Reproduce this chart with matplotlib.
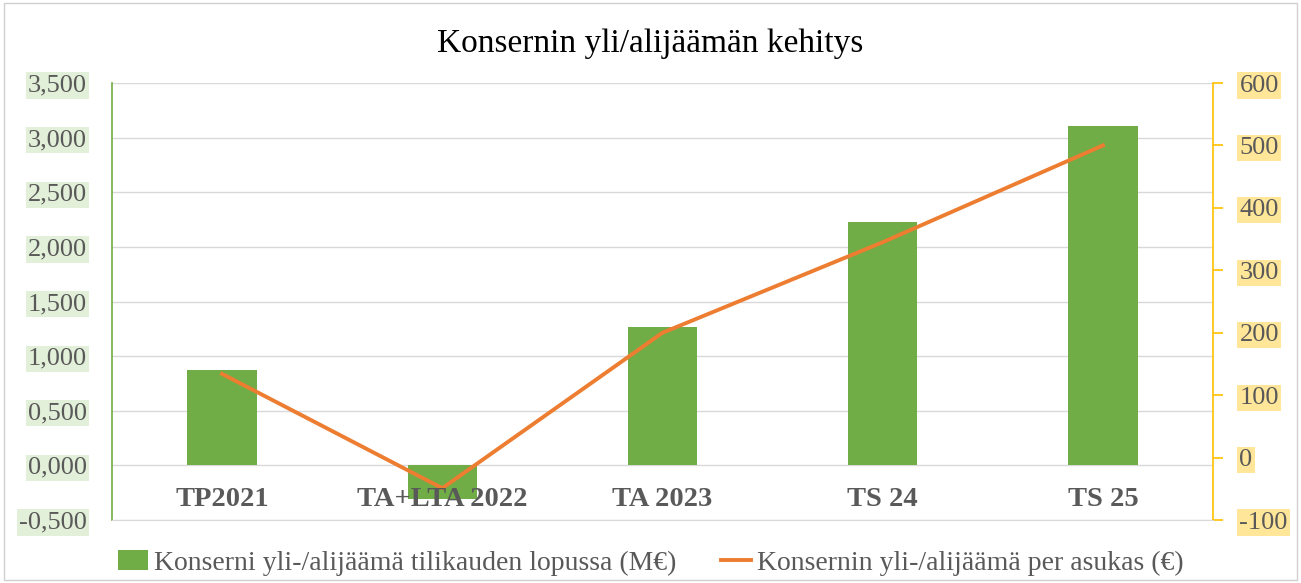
import matplotlib
matplotlib.use("Agg")
import matplotlib.pyplot as plt
from matplotlib.patches import Rectangle
from matplotlib.transforms import blended_transform_factory

# data
categories = ["TP2021", "TA+LTA 2022", "TA 2023", "TS 24", "TS 25"]
surplus_meur = [0.87, -0.31, 1.27, 2.23, 3.11]
per_resident = [134, -49, 200, 345, 500]
left_ticks = [-0.5, 0.0, 0.5, 1.0, 1.5, 2.0, 2.5, 3.0, 3.5]
right_ticks = [-100, 0, 100, 200, 300, 400, 500, 600]

bar_label = "Konserni yli-/alijäämä tilikauden lopussa (M€)"
line_label = "Konsernin yli-/alijäämä per asukas (€)"
title = "Konsernin yli/alijäämän kehitys"

green = "#70ad47"
orange = "#ed7d31"
gold = "#ffc000"
grid_col = "#d9d9d9"
text_col = "#595959"

plt.rcParams["font.family"] = ["Liberation Serif", "DejaVu Serif"]

fig = plt.figure(figsize=(13.01, 5.83), dpi=100)
fig.patches.append(Rectangle((0.003, 0.005), 0.994, 0.99, transform=fig.transFigure,
                             fill=False, edgecolor="#d0d0d0", linewidth=1))

ax = fig.add_axes([0.0861, 0.108, 0.8463, 0.7496])
ax2 = ax.twinx()

x = list(range(len(categories)))
ax.bar(x, surplus_meur, width=0.315, color=green, zorder=2, label=bar_label)
ax2.plot(x, per_resident, color=orange, linewidth=2.8, zorder=3, label=line_label)

ax.set_xlim(-0.5, len(categories) - 0.5)
ax.set_ylim(-0.5, 3.5)
ax2.set_ylim(-100, 600)

ax.set_yticks(left_ticks)
ax.set_yticklabels([f"{v:.3f}".replace(".", ",") for v in left_ticks])
ax2.set_yticks(right_ticks)
ax2.set_yticklabels([str(v) for v in right_ticks])

ax.grid(axis="y", color=grid_col, linewidth=1, zorder=0)
ax.set_axisbelow(True)
ax.set_xticks([])

for s in ["top", "right", "bottom"]:
    ax.spines[s].set_visible(False)
ax.spines["left"].set_color(green)
ax.spines["left"].set_linewidth(1.2)
for s in ["top", "left"]:
    ax2.spines[s].set_visible(False)
ax2.spines["bottom"].set_color(grid_col)
ax2.spines["right"].set_color(gold)
ax2.spines["right"].set_linewidth(1.2)

ax.tick_params(axis="y", length=0, pad=18, labelsize=19, labelcolor=text_col)
ax2.tick_params(axis="y", length=7, width=1.2, color=gold, pad=12,
                labelsize=19, labelcolor=text_col)

for lbl in ax.get_yticklabels():
    lbl.set_bbox(dict(facecolor="#e2efd9", edgecolor="none", pad=1.5))
for lbl in ax2.get_yticklabels():
    lbl.set_bbox(dict(facecolor="#ffe699", edgecolor="none", pad=1.5))

# category labels sit inside the plot, just under the zero line
tr = blended_transform_factory(ax.transData, ax.transAxes)
for i, c in enumerate(categories):
    ax2.text(i, 0.048, c, transform=tr, ha="center", va="center", fontsize=20.5,
             fontweight="bold", color=text_col, zorder=5)

fig.text(0.5, 0.925, title, ha="center", va="center", fontsize=24, color="black")

h1, l1 = ax.get_legend_handles_labels()
h2, l2 = ax2.get_legend_handles_labels()
fig.legend(h1 + h2, l1 + l2, loc="center", bbox_to_anchor=(0.5, 0.034), ncol=2,
           frameon=False, fontsize=20, labelcolor=text_col, handlelength=1.1,
           handletextpad=0.2, columnspacing=1.6)

fig.savefig("out.png", dpi=100)
